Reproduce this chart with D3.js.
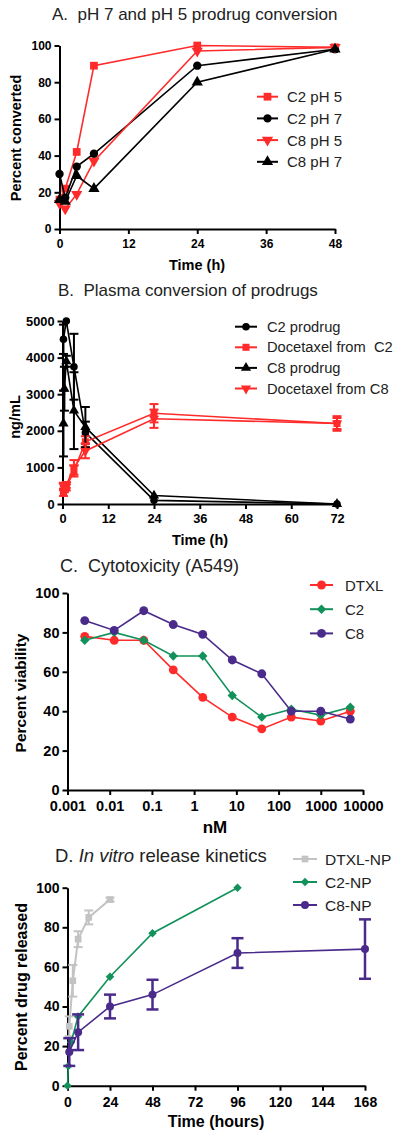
<!DOCTYPE html>
<html>
<head>
<meta charset="utf-8">
<script src="https://cdn.jsdelivr.net/npm/d3@7"></script>
<style>
  html, body { margin: 0; padding: 0; background: #fff; }
  svg { display: block; font-family: "Liberation Sans", Arial, sans-serif; }
  svg text { white-space: pre; }
</style>
</head>
<body>
<svg id="chart" width="400" height="1139"></svg>
<script>
// ---------- Panel A: pH 7 and pH 5 prodrug conversion ----------
const timeA = [0, 1, 3, 6, 24, 48];
const c2pH5 = [16, 22, 42, 89, 100, 99];
const c2pH7 = [30, 17, 34, 41, 89, 98];
const c8pH5 = [14, 11, 19, 37, 97, 99];
const c8pH7 = [16, 15, 29, 22, 80, 98];
const xTicksA = [0, 12, 24, 36, 48];
const yTicksA = [0, 20, 40, 60, 80, 100];

// ---------- Panel B: Plasma conversion of prodrugs ----------
const timeBC2 = [0.25, 1, 3, 6, 24, 72];
const c2Prodrug = [4500, 5000, 3750, 1950, 100, 0];
const c2ProdrugErr = [400, 0, 900, 300, 0, 0];
const timeBC8 = [0.25, 0.5, 1, 3, 6, 24, 72];
const c8Prodrug = [2200, 3150, 3900, 2550, 2100, 230, 0];
const c8ProdrugErr = [900, 600, 150, 1050, 550, 0, 0];
const timeBD = [0.25, 0.5, 1, 3, 6, 24, 72];
const dtxFromC2 = [300, 400, 450, 900, 1700, 2480, 2200];
const dtxFromC2Err = [80, 80, 80, 150, 150, 250, 150];
const dtxFromC8 = [500, 450, 520, 1000, 1450, 2330, 2200];
const dtxFromC8Err = [80, 80, 80, 200, 200, 250, 200];
const xTicksB = [0, 12, 24, 36, 48, 60, 72];
const yTicksB = [0, 1000, 2000, 3000, 4000, 5000];

// ---------- Panel C: Cytotoxicity (A549) ----------
const concC = [0.00256, 0.0128, 0.064, 0.32, 1.6, 8, 40, 200, 1000, 5000];
const dtxlC = [78, 76, 76, 61, 47, 37, 31, 37, 35, 40];
const c2C = [76, 80, 76, 68, 68, 48, 37, 41, 38, 42];
const c8C = [86, 81, 91, 84, 79, 66, 59, 40, 40, 36];
const xTicksC = [0.001, 0.01, 0.1, 1, 10, 100, 1000, 10000];
const xTickLabelsC = ["0.001", "0.01", "0.1", "1", "10", "100", "1000", "10000"];
const yTicksC = [0, 20, 40, 60, 80, 100];

// ---------- Panel D: In vitro release kinetics ----------
const timeDdtxl = [1, 3, 6, 12, 24];
const dtxlNP = [30, 53, 74, 85, 94];
const dtxlNPErr = [5, 8, 4, 3.5, 1];
const timeDc2 = [0, 0.5, 1, 2, 6, 24, 48, 96];
const c2NP = [0, 10, 17, 22, 35, 55, 77, 100];
const timeDc8 = [1, 6, 24, 48, 96, 168];
const c8NP = [17, 27, 40, 46, 67, 69];
const c8NPErr = [7, 9, 6, 7.5, 7.5, 15];
const xTicksD = [0, 24, 48, 72, 96, 120, 144, 168];
const yTicksD = [0, 20, 40, 60, 80, 100];

const RED = "#ff2b2b", BLACK = "#000", GREEN = "#12915a", PURPLE = "#4a2a8a", GRAY = "#c3c3c3";
const FONT = "'Liberation Sans', Arial, sans-serif";

const svg = d3.select("#chart");

function symbolPath(type, size) {
  const map = {
    square: d3.symbolSquare, circle: d3.symbolCircle, triUp: d3.symbolTriangle,
    triDown: d3.symbolTriangle, diamond: d3.symbolSquare
  };
  return d3.symbol().type(map[type]).size(size)();
}
function symRot(type) {
  return type === "triDown" ? " rotate(180)" : type === "diamond" ? " rotate(45)" : "";
}

function drawPanel(cfg) {
  const f = cfg.fonts;
  const g = svg.append("g");
  const x = cfg.x, y = cfg.y;
  const xAxis = d3.axisBottom(x).tickValues(cfg.xTicks).tickSize(5).tickSizeOuter(0).tickPadding(cfg.xPad || 5);
  if (cfg.xLabels) xAxis.tickFormat((d, i) => cfg.xLabels[i]);
  else xAxis.tickFormat(d3.format("d"));
  const yAxis = d3.axisLeft(y).tickValues(cfg.yTicks).tickSize(5).tickSizeOuter(0).tickPadding(3).tickFormat(d3.format("d"));
  const gx = g.append("g").attr("transform", `translate(0,${y.range()[0]})`).call(xAxis);
  const gy = g.append("g").attr("transform", `translate(${x.range()[0]},0)`).call(yAxis);
  [gx, gy].forEach(a => {
    a.attr("font-family", FONT);
    a.select(".domain").attr("stroke", "#000").attr("stroke-width", 2);
    a.selectAll(".tick line").attr("stroke", "#000").attr("stroke-width", 2);
    a.selectAll(".tick text").attr("fill", "#000").attr("font-size", f.tick).attr("font-weight", "bold")
      .attr("font-family", FONT);
  });
  const t = g.append("text").attr("x", cfg.titleX).attr("y", cfg.titleY)
    .attr("font-size", f.title).attr("fill", "#222").attr("font-family", FONT);
  cfg.title.forEach(part => t.append("tspan").attr("font-style", part.italic ? "italic" : "normal").text(part.text));
  g.append("text").attr("x", cfg.xTitlePos[0]).attr("y", cfg.xTitlePos[1]).attr("font-family", FONT)
    .attr("text-anchor", "middle").attr("font-size", f.xTitle || f.axis).attr("font-weight", "bold").text(cfg.xTitle);
  g.append("text").attr("transform", `translate(${cfg.yTitlePos[0]},${cfg.yTitlePos[1]}) rotate(-90)`)
    .attr("text-anchor", "middle").attr("dominant-baseline", "central").attr("font-family", FONT)
    .attr("font-size", f.axis).attr("font-weight", "bold").text(cfg.yTitle);

  const line = d3.line().x(d => x(d[0])).y(d => y(d[1]));
  cfg.series.forEach(s => {
    const pts = s.xs.map((xv, i) => [xv, s.ys[i], s.err ? s.err[i] : 0]);
    const sg = g.append("g");
    sg.append("path").attr("d", line(pts)).attr("fill", "none").attr("stroke", s.color).attr("stroke-width", s.lw || 1.6);
    if (s.err) {
      pts.forEach(p => {
        if (!p[2]) return;
        const cx = x(p[0]), y1 = y(p[1] + p[2]), y2 = y(p[1] - p[2]);
        const hw = s.cap || 4.5;
        sg.append("line").attr("x1", cx).attr("x2", cx).attr("y1", y1).attr("y2", y2).attr("stroke", s.color).attr("stroke-width", s.elw || 2);
        [y1, y2].forEach(yy => sg.append("line").attr("x1", cx - hw).attr("x2", cx + hw).attr("y1", yy).attr("y2", yy).attr("stroke", s.color).attr("stroke-width", s.elw || 2));
      });
    }
    pts.forEach(p => {
      sg.append("path").attr("d", symbolPath(s.sym, s.size || 55))
        .attr("transform", `translate(${x(p[0])},${y(p[1])})${symRot(s.sym)}`)
        .attr("fill", s.color);
    });
  });
  cfg.series.forEach((s, i) => {
    const ly = cfg.legend.y + i * cfg.legend.dy;
    const lg = g.append("g");
    lg.append("line").attr("x1", cfg.legend.x1).attr("x2", cfg.legend.x2).attr("y1", ly).attr("y2", ly)
      .attr("stroke", s.color).attr("stroke-width", 2);
    lg.append("path").attr("d", symbolPath(s.sym, s.size || 55))
      .attr("transform", `translate(${(cfg.legend.x1 + cfg.legend.x2) / 2},${ly})${symRot(s.sym)}`)
      .attr("fill", s.color);
    lg.append("text").attr("x", cfg.legend.tx).attr("y", ly).attr("dominant-baseline", "central")
      .attr("font-size", f.legend).attr("fill", "#222").attr("font-family", FONT).text(s.name);
  });
}

drawPanel({
  x: d3.scaleLinear().domain([0, 48]).range([59.5, 335]),
  y: d3.scaleLinear().domain([0, 100]).range([229, 45.5]),
  xTicks: xTicksA, yTicks: yTicksA,
  fonts: { tick: 12, axis: 14.5, title: 17, legend: 15 },
  title: [{ text: "A.  pH 7 and pH 5 prodrug conversion" }], titleX: 52, titleY: 19.5,
  xTitle: "Time (h)", xTitlePos: [197, 270],
  yTitle: "Percent converted", yTitlePos: [16, 138],
  legend: { x1: 257, x2: 278, tx: 287, y: 96.7, dy: 21.7 },
  series: [
    { name: "C2 pH 5", xs: timeA, ys: c2pH5, color: RED, sym: "square", size: 60 },
    { name: "C2 pH 7", xs: timeA, ys: c2pH7, color: BLACK, sym: "circle", size: 55 },
    { name: "C8 pH 5", xs: timeA, ys: c8pH5, color: RED, sym: "triDown", size: 55 },
    { name: "C8 pH 7", xs: timeA, ys: c8pH7, color: BLACK, sym: "triUp", size: 55 }
  ]
});

drawPanel({
  x: d3.scaleLinear().domain([0, 72]).range([62.5, 337]),
  y: d3.scaleLinear().domain([0, 5000]).range([504, 321]),
  xTicks: xTicksB, yTicks: yTicksB,
  fonts: { tick: 12.8, axis: 14.5, title: 17, legend: 14.7 },
  title: [{ text: "B.  Plasma conversion of prodrugs" }], titleX: 58, titleY: 296,
  xTitle: "Time (h)", xTitlePos: [200, 545],
  yTitle: "ng/mL", yTitlePos: [15, 417],
  legend: { x1: 235, x2: 257, tx: 267, y: 326.7, dy: 20.6 },
  series: [
    { name: "C2 prodrug", xs: timeBC2, ys: c2Prodrug, err: c2ProdrugErr, color: BLACK, sym: "circle", size: 45, cap: 4.5 },
    { name: "Docetaxel from  C2", xs: timeBD, ys: dtxFromC2, err: dtxFromC2Err, color: RED, sym: "square", size: 50, cap: 4.5 },
    { name: "C8 prodrug", xs: timeBC8, ys: c8Prodrug, err: c8ProdrugErr, color: BLACK, sym: "triUp", size: 45, cap: 4.5 },
    { name: "Docetaxel from C8", xs: timeBD, ys: dtxFromC8, err: dtxFromC8Err, color: RED, sym: "triDown", size: 45, cap: 4.5 }
  ]
});

drawPanel({
  x: d3.scaleLog().domain([0.001, 10000]).range([67.5, 363]),
  y: d3.scaleLinear().domain([0, 100]).range([790, 593]),
  xTicks: xTicksC, xLabels: xTickLabelsC, yTicks: yTicksC, xPad: 6,
  fonts: { tick: 14.5, axis: 15.5, xTitle: 17, title: 18, legend: 15 },
  title: [{ text: "C.  Cytotoxicity (A549)" }], titleX: 60, titleY: 572,
  xTitle: "nM", xTitlePos: [215, 833],
  yTitle: "Percent viability", yTitlePos: [20, 693],
  legend: { x1: 310, x2: 333, tx: 345, y: 585, dy: 24.2 },
  series: [
    { name: "DTXL", xs: concC, ys: dtxlC, color: RED, sym: "circle", size: 62 },
    { name: "C2", xs: concC, ys: c2C, color: GREEN, sym: "diamond", size: 44 },
    { name: "C8", xs: concC, ys: c8C, color: PURPLE, sym: "circle", size: 62 }
  ]
});

drawPanel({
  x: d3.scaleLinear().domain([0, 168]).range([67.5, 365]),
  y: d3.scaleLinear().domain([0, 100]).range([1085.7, 887.7]),
  xTicks: xTicksD, yTicks: yTicksD, xPad: 6,
  fonts: { tick: 14, axis: 16, title: 18.5, legend: 15.5 },
  title: [{ text: "D. " }, { text: "In vitro", italic: true }, { text: " release kinetics" }], titleX: 55, titleY: 862,
  xTitle: "Time (hours)", xTitlePos: [216, 1127],
  yTitle: "Percent drug released", yTitlePos: [21, 987],
  legend: { x1: 293, x2: 317, tx: 325, y: 859, dy: 23 },
  series: [
    { name: "DTXL-NP", xs: timeDdtxl, ys: dtxlNP, err: dtxlNPErr, color: GRAY, sym: "square", size: 45, cap: 4.5, lw: 2 },
    { name: "C2-NP", xs: timeDc2, ys: c2NP, color: GREEN, sym: "diamond", size: 36 },
    { name: "C8-NP", xs: timeDc8, ys: c8NP, err: c8NPErr, color: PURPLE, sym: "circle", size: 50, cap: 6, elw: 2.5 }
  ]
});
</script>
</body>
</html>
